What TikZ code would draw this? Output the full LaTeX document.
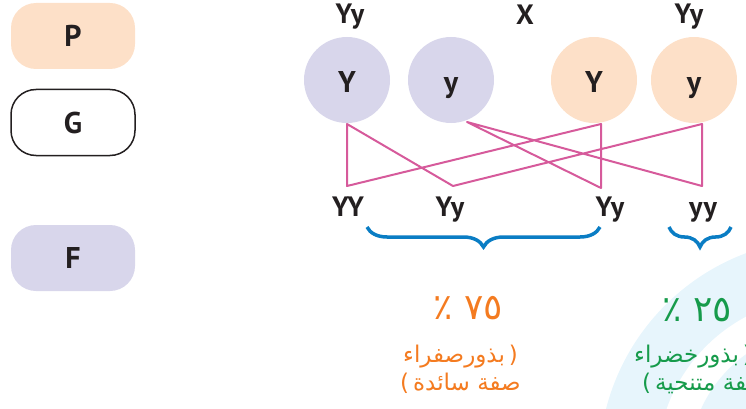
\documentclass[tikz,border=0pt]{standalone}
\usepackage{fontspec}
\setmainfont{PT Sans}
\newfontfamily\arabicfont[Script=Arabic]{DejaVu Sans}
\newfontfamily\parenfont{DejaVu Sans}
\usetikzlibrary{decorations.pathreplacing}
\TeXXeTstate=1
\definecolor{lav}{RGB}{216,214,235}
\definecolor{peach}{RGB}{253,224,200}
\definecolor{pinkline}{RGB}{214,90,155}
\definecolor{braceblue}{RGB}{10,125,196}
\definecolor{orangetxt}{RGB}{244,123,32}
\definecolor{greentxt}{RGB}{22,155,75}
\definecolor{bgblue}{RGB}{231,245,252}
\definecolor{ink}{RGB}{35,31,32}
\begin{document}
\begin{tikzpicture}[x=1pt,y=-1pt,
  labelbox/.style={rounded corners=25pt, minimum width=124pt, minimum height=66pt, inner sep=0pt,
    font=\fontsize{30}{30}\selectfont\bfseries, text=ink},
  gamete/.style={circle, minimum size=86pt, inner sep=0pt, text height=26pt, text depth=0pt,
    font=\fontsize{30}{30}\selectfont\bfseries, text=ink},
  geno/.style={font=\fontsize{28}{28}\selectfont\bfseries, text=ink, inner sep=0pt, anchor=base},
  cross/.style={draw=pinkline, line width=2pt, line join=round},
  curly/.style={draw=braceblue, line width=3.5pt, decorate, decoration={brace, amplitude=20pt, mirror}},
  pct/.style={font=\arabicfont\fontsize{36}{36}\selectfont, inner sep=0pt, anchor=base},
  artxt/.style={font=\arabicfont\fontsize{23}{23}\selectfont, inner sep=0pt, anchor=base west}
]
\useasboundingbox (0,0) rectangle (746,409);

% background rings
\begin{scope}
  \clip (0,0) rectangle (746,409);
  \fill[bgblue] (825,465) circle[radius=226];
  \fill[white] (825,465) circle[radius=168];
  \fill[bgblue] (825,465) circle[radius=136];
\end{scope}

% generation boxes
\node[labelbox, fill=peach] (P) at (73,36) {P};
\node[labelbox, draw=ink, line width=1.5pt] (G) at (73,122.5) {G};
\node[labelbox, fill=lav] (F) at (73,258) {F};

% parents
\node[geno] (par1) at (350,24) {Yy};
\node[geno] (cx) at (525,25) {X};
\node[geno] (par2) at (689,24) {Yy};

% gametes
\node[gamete, fill=lav] (gYL) at (347,80) {Y};
\node[gamete, fill=lav] (gyL) at (451,80) {y};
\node[gamete, fill=peach] (gYR) at (594,80) {Y};
\node[gamete, fill=peach] (gyR) at (694,80) {y};

% line end points
\coordinate (tYL) at (347,124);
\coordinate (tyL) at (467,122);
\coordinate (tYR) at (601,124);
\coordinate (tyR) at (702,124);
\coordinate (b1) at (347,186);
\coordinate (b2) at (453,186);
\coordinate (b3) at (601,188);
\coordinate (b4) at (702,186);

\draw[cross] (b2) -- (tYL) -- (b1) -- (tYR) -- (b3) -- (tyL) -- (b4) -- (tyR) -- cycle;

% offspring
\node[geno] (o1) at (348,216) {YY};
\node[geno] (o2) at (450,216) {Yy};
\node[geno] (o3) at (610,216) {Yy};
\node[geno] (o4) at (703,216) {yy};

% braces
\coordinate (br1a) at (367,227);
\coordinate (br1b) at (600,227);
\coordinate (br2a) at (669,227);
\coordinate (br2b) at (731,227);
\draw[curly] (br1a) -- (br1b);
\draw[curly] (br2a) -- (br2b);

% percentages
\node[pct, text=orangetxt] (p75) at (468,319) {\beginR ٧٥ ٪\endR};
\node[pct, text=greentxt] (p25) at (697,321) {\beginR ٢٥ ٪\endR};

\node[artxt, text=orangetxt] (y1) at (403,362) {\beginR بذورصفراء\endR\kern4pt{\parenfont)}};
\node[artxt, text=orangetxt] (y2) at (400,390) {{\parenfont(}\kern4pt\beginR صفة سائدة\endR};
\node[artxt, text=greentxt] (g1) at (634,362) {\beginR بذورخضراء\endR\kern4pt{\parenfont)}};
\node[artxt, text=greentxt] (g2) at (642,390) {{\parenfont(}\kern4pt\beginR صفة متنحية\endR};
\end{tikzpicture}
\end{document}
